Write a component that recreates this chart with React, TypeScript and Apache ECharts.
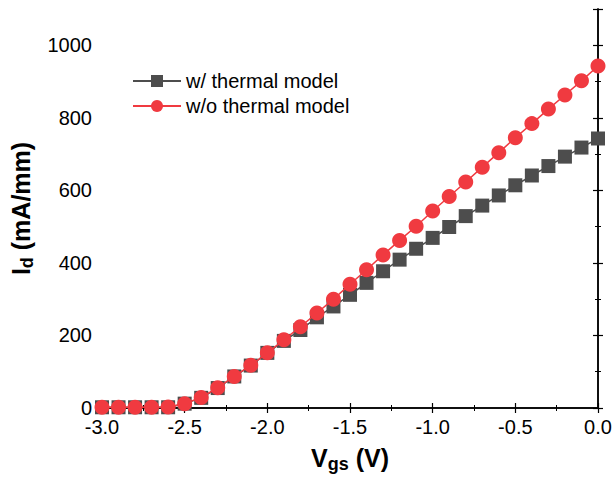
import React, { useEffect, useRef } from "react";
import * as echarts from "echarts";

const vgs = [-3.0, -2.9, -2.8, -2.7, -2.6, -2.5, -2.4, -2.3, -2.2, -2.1, -2.0, -1.9, -1.8, -1.7, -1.6, -1.5, -1.4, -1.3, -1.2, -1.1, -1.0, -0.9, -0.8, -0.7, -0.6, -0.5, -0.4, -0.3, -0.2, -0.1, 0.0];
const withThermal = [2, 2, 2, 2, 2, 12, 28, 55, 87, 117, 152, 185, 215, 250, 280, 312, 345, 377, 409, 439, 469, 499, 529, 558, 586, 614, 641, 667, 693, 718, 743];
const withoutThermal = [2, 2, 2, 2, 3, 12, 29, 56, 87, 118, 152, 188, 224, 262, 300, 341, 381, 422, 462, 501, 543, 583, 623, 664, 704, 745, 784, 824, 863, 902, 943];
const seriesNames = ["w/ thermal model", "w/o thermal model"];

const BLACK = "#4D4D4D";
const RED = "#F03A40";
const FONT = "'Liberation Sans', Arial, sans-serif";

export default function App() {
  const ref = useRef<HTMLDivElement>(null);
  useEffect(() => {
    if (!ref.current) return;
    const chart = echarts.init(ref.current, undefined, { renderer: "svg" });
    const tickCommon = {
      axisLine: { show: true, lineStyle: { color: "#000", width: 1.5 } },
      axisTick: { show: true, inside: true, length: 5, lineStyle: { color: "#000", width: 1.2 } },
      minorTick: { show: true, splitNumber: 2, length: 3, lineStyle: { color: "#000", width: 1 } },
      splitLine: { show: false },
      minorSplitLine: { show: false },
    };
    chart.setOption({
      animation: false,
      backgroundColor: "#fff",
      textStyle: { fontFamily: FONT },
      grid: { left: 102, right: 16, top: 9, bottom: 76, containLabel: false, outerBoundsMode: "none" },
      legend: {
        left: 127,
        top: 66,
        orient: "vertical",
        itemWidth: 48,
        itemHeight: 15,
        itemGap: 5,
        textStyle: { fontSize: 20, color: "#000", fontFamily: FONT },
        data: seriesNames,
      },
      xAxis: [
        {
          type: "value",
          min: -3,
          max: 0,
          interval: 0.5,
          position: "bottom",
          ...tickCommon,
          axisLabel: {
            color: "#000",
            fontSize: 20,
            fontFamily: FONT,
            margin: 9,
            formatter: (v: number) => v.toFixed(1),
          },
          name: "{v|V}{s|gs}{v| (V)}",
          nameLocation: "middle",
          nameGap: 35,
          nameTextStyle: {
            rich: {
              v: { fontSize: 25, fontWeight: "bold", color: "#000", fontFamily: FONT, lineHeight: 30 },
              s: { fontSize: 18, fontWeight: "bold", color: "#000", fontFamily: FONT, lineHeight: 14, verticalAlign: "bottom" },
            },
          },
        },
        {
          type: "value",
          min: -3,
          max: 0,
          interval: 0.5,
          position: "top",
          ...tickCommon,
          axisLabel: { show: false },
        },
      ],
      yAxis: [
        {
          type: "value",
          min: 0,
          max: 1100,
          interval: 200,
          position: "left",
          ...tickCommon,
          axisLabel: {
            color: "#000",
            fontSize: 20,
            fontFamily: FONT,
            margin: 10,
            showMaxLabel: false,
            formatter: (v: number) => String(v),
          },
          name: "{v|I}{s|d}{v| (mA/mm)}",
          nameLocation: "middle",
          nameGap: 66,
          nameTextStyle: {
            rich: {
              v: { fontSize: 25, fontWeight: "bold", color: "#000", fontFamily: FONT, lineHeight: 30 },
              s: { fontSize: 18, fontWeight: "bold", color: "#000", fontFamily: FONT, lineHeight: 14, verticalAlign: "bottom" },
            },
          },
        },
        {
          type: "value",
          min: 0,
          max: 1100,
          interval: 200,
          position: "right",
          ...tickCommon,
          axisLabel: { show: false },
        },
      ],
      series: [
        {
          name: seriesNames[0],
          type: "line",
          data: vgs.map((x, i) => [x, withThermal[i]]),
          symbol: "rect",
          symbolSize: 14,
          itemStyle: { color: BLACK },
          lineStyle: { color: BLACK, width: 1.5 },
          clip: true,
          z: 2,
        },
        {
          name: seriesNames[1],
          type: "line",
          data: vgs.map((x, i) => [x, withoutThermal[i]]),
          symbol: "circle",
          symbolSize: 15,
          itemStyle: { color: RED },
          lineStyle: { color: RED, width: 1.5 },
          clip: true,
          z: 3,
        },
      ],
    });
    return () => chart.dispose();
  }, []);
  return <div ref={ref} style={{ width: 614, height: 484, position: "absolute", left: 0, top: 0 }} />;
}
